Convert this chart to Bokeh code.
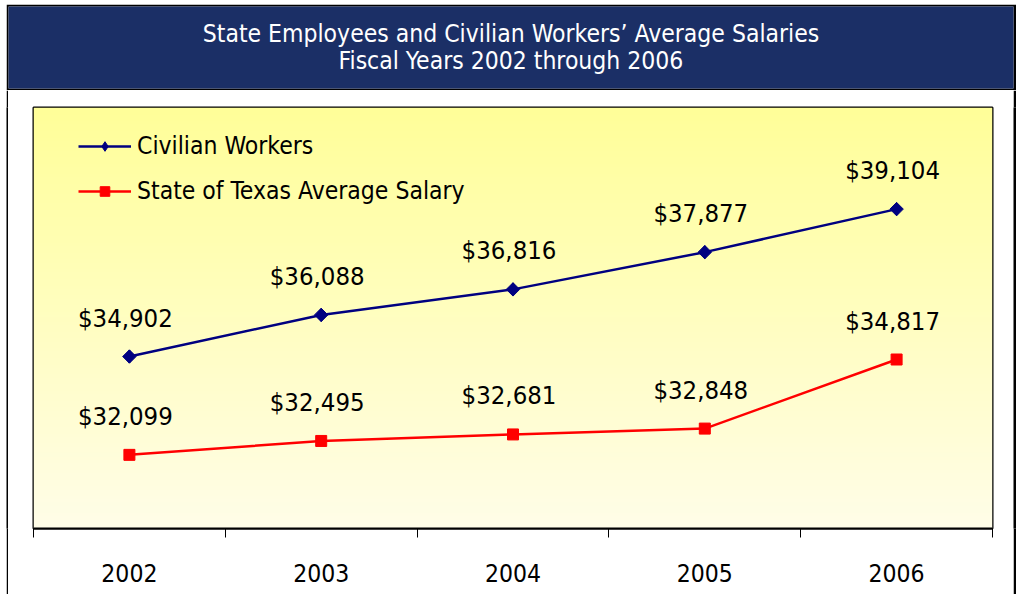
import numpy as np
from bokeh.plotting import figure
from bokeh.models import ColumnDataSource, FixedTicker, LabelSet, Legend, LegendItem, Range1d, Spacer
from bokeh.layouts import column, row
from bokeh.core.properties import value
from bokeh.embed import file_html
from bokeh.resources import INLINE

years = ["2002", "2003", "2004", "2005", "2006"]
civilian = [34902, 36088, 36816, 37877, 39104]
state = [32099, 32495, 32681, 32848, 34817]
series_names = ["Civilian Workers", "State of Texas Average Salary"]
title_lines = ["State Employees and Civilian Workers\u2019 Average Salaries",
               "Fiscal Years 2002 through 2006"]

FONT = "DejaVu Sans Condensed, DejaVu Sans"
NAVY = "#000080"
RED = "#ff0000"
xs = list(range(1, len(years) + 1))

# ---------- title bar ----------
head = figure(width=1010, height=86, x_range=(0, 1), y_range=(0, 82),
              output_backend="svg", toolbar_location=None,
              x_axis_location=None, y_axis_location=None,
              min_border_left=2, min_border_right=3, min_border_top=2, min_border_bottom=2,
              border_fill_color="black", background_fill_color="#1b2f66",
              outline_line_color=None)
head.grid.visible = False
head.text(x=[0.5, 0.5], y=[55, 28], text=title_lines, text_align="center",
          text_baseline="middle", text_color="white",
          text_font=value(FONT), text_font_size="24.5px")

# ---------- main chart ----------
main = figure(width=1005, height=504, x_range=Range1d(0.5, 5.5), y_range=Range1d(30000, 42000),
              output_backend="svg", toolbar_location=None, y_axis_location=None,
              min_border_left=25, min_border_right=21, min_border_top=17, min_border_bottom=66,
              border_fill_color="white", outline_line_color="black", outline_line_width=2)
main.grid.visible = False

# gradient background (decorative)
n = 128
top = np.array([255, 255, 153])
bot = np.array([255, 253, 232])
img = np.zeros((n, 1), dtype=np.uint32)
view = img.view(dtype=np.uint8).reshape((n, 1, 4))
for i in range(n):
    t = i / (n - 1)
    c = bot * (1 - t) + top * t
    view[i, 0, 0] = int(c[0]); view[i, 0, 1] = int(c[1]); view[i, 0, 2] = int(c[2]); view[i, 0, 3] = 255
main.image_rgba(image=[img], x=0.5, y=30000, dw=5, dh=12000)

l1 = main.line(xs, civilian, line_color=NAVY, line_width=2.5)
# diamond key marker (used by the legend); hidden under the rotated squares in the plot
k1 = main.scatter(xs, civilian, marker="diamond", size=13, color=NAVY)
s1 = main.scatter(xs, civilian, marker="square", angle=np.pi / 4, size=9.5, color=NAVY)
l2 = main.line(xs, state, line_color=RED, line_width=2.5)
s2 = main.scatter(xs, state, marker="square", size=11, color=RED)

for vals in (civilian, state):
    src = ColumnDataSource(dict(x=xs, y=vals, t=[f"${v:,}" for v in vals]))
    main.add_layout(LabelSet(x="x", y="y", text="t", source=src, x_offset=-4, y_offset=39,
                             text_align="center", text_baseline="middle",
                             text_font=value(FONT), text_font_size="25.5px", text_color="black"))

legend = Legend(items=[LegendItem(label=series_names[0], renderers=[l1, k1]),
                       LegendItem(label=series_names[1], renderers=[l2, s2])],
                location=(45, 323), glyph_width=53, glyph_height=24, label_standoff=6,
                spacing=16, padding=0, margin=0, background_fill_alpha=0,
                border_line_color=None, label_text_font=FONT, label_text_font_size="24.5px",
                label_text_color="black")
main.add_layout(legend)

ax = main.xaxis[0]
ax.ticker = FixedTicker(ticks=xs, minor_ticks=[x - 0.5 for x in xs] + [xs[-1] + 0.5])
ax.major_label_overrides = {x: y for x, y in zip(xs, years)}
ax.axis_line_color = "black"
ax.axis_line_width = 2
ax.major_tick_out = 0
ax.major_tick_in = 0
ax.minor_tick_out = 9
ax.minor_tick_in = 0
ax.minor_tick_line_color = "black"
ax.major_label_standoff = 26
ax.major_label_text_font = FONT
ax.major_label_text_font_size = "24.5px"
ax.major_label_text_color = "black"


def bar(w):
    f = figure(width=w, height=504, output_backend="svg", toolbar_location=None,
               x_axis_location=None, y_axis_location=None, min_border=0,
               background_fill_color="black", border_fill_color="black",
               outline_line_color=None)
    f.grid.visible = False
    return f


layout = column(
    Spacer(width=1018, height=4),
    row(Spacer(width=6, height=86), head, Spacer(width=2, height=86)),
    row(Spacer(width=6, height=504), bar(2), main, bar(3), Spacer(width=2, height=504)),
)
open("out.html", "w").write(file_html(layout, INLINE))
